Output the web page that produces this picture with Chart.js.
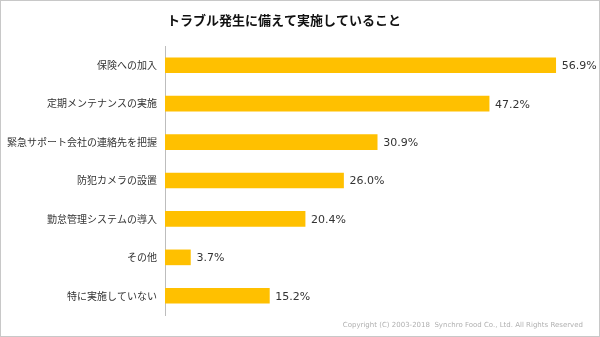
<!DOCTYPE html>
<html>
<head>
<meta charset="utf-8">
<script src="https://cdn.jsdelivr.net/npm/chart.js@4"></script>
<style>
  html, body { margin: 0; padding: 0; background: #fff; }
  #wrap { width: 600px; height: 337px; }
</style>
</head>
<body>
<div id="wrap"><canvas id="chart" width="600" height="337"></canvas></div>
<script>
// 回答項目と割合（%）
const categories = [
    "保険への加入",
    "定期メンテナンスの実施",
    "緊急サポート会社の連絡先を把握",
    "防犯カメラの設置",
    "勤怠管理システムの導入",
    "その他",
    "特に実施していない"
];
const values = [56.9, 47.2, 30.9, 26.0, 20.4, 3.7, 15.2];
const chartTitle = "トラブル発生に備えて実施していること";
const copyright = "Copyright (C) 2003-2018  Synchro Food Co., Ltd. All Rights Reserved";

const JP_FONT = "'Noto Sans CJK JP', 'Noto Sans', sans-serif";

// タイトル・数値ラベル・枠線を描くプラグイン
const extras = {
    id: "extras",
    afterDraw(chart) {
        const ctx = chart.ctx;
        ctx.save();

        // 外枠
        ctx.strokeStyle = "#c8c8c8";
        ctx.lineWidth = 1;
        ctx.strokeRect(0.5, 0.5, chart.width - 1, chart.height - 1);

        // タイトル
        ctx.fillStyle = "#111";
        ctx.font = "bold 13px " + JP_FONT;
        ctx.textAlign = "center";
        ctx.textBaseline = "middle";
        ctx.fillText(chartTitle, 284, 20);

        // 数値ラベル
        const meta = chart.getDatasetMeta(0);
        ctx.font = "11px 'DejaVu Sans', sans-serif";
        ctx.fillStyle = "#333";
        ctx.textAlign = "left";
        meta.data.forEach((bar, i) => {
            ctx.fillText(values[i].toFixed(1) + "%", bar.x + 6, bar.y + 1);
        });

        // コピーライト
        ctx.font = "7px 'DejaVu Sans', sans-serif";
        ctx.fillStyle = "#b0b0b0";
        ctx.textAlign = "right";
        ctx.fillText(copyright, 583, 325);

        ctx.restore();
    }
};

new Chart(document.getElementById("chart"), {
    type: "bar",
    data: {
        labels: categories,
        datasets: [{
            data: values,
            backgroundColor: "#FFC000",
            barThickness: 15
        }]
    },
    options: {
        indexAxis: "y",
        responsive: false,
        animation: false,
        layout: { padding: { top: 46, bottom: 22, left: 0, right: 23 } },
        plugins: {
            legend: { display: false },
            tooltip: { enabled: false }
        },
        scales: {
            x: {
                display: false,
                min: 0,
                max: 60
            },
            y: {
                afterFit(scale) { scale.width = 165; },
                grid: { display: false, drawTicks: false },
                border: { display: true, color: "#bdbdbd", width: 1 },
                ticks: {
                    padding: 8,
                    color: "#333",
                    font: { family: JP_FONT, size: 10 }
                }
            }
        }
    },
    plugins: [extras]
});
</script>
</body>
</html>
